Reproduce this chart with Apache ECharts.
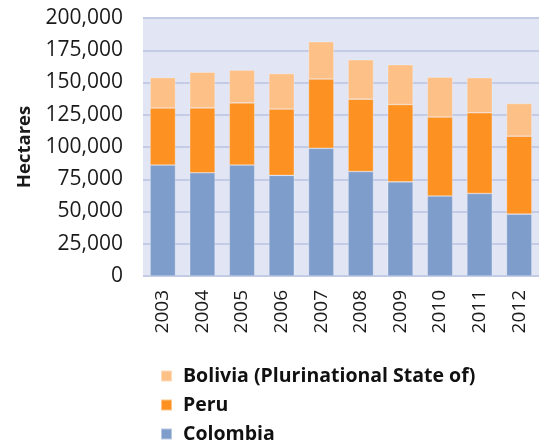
<!DOCTYPE html>
<html><head><meta charset="utf-8">
<script src="https://cdn.jsdelivr.net/npm/echarts@6/dist/echarts.min.js"></script>
<style>html,body{margin:0;padding:0;background:#fff}#c{width:540px;height:446px}</style>
</head><body><div id="c"></div>
<script>
const years = ['2003','2004','2005','2006','2007','2008','2009','2010','2011','2012'];
const colombia = [86000, 80000, 86000, 78000, 99000, 81000, 73000, 62000, 64000, 48000];
const peru = [44200, 50300, 48200, 51400, 53700, 56100, 59900, 61200, 62500, 60400];
const bolivia = [23600, 27700, 25400, 27500, 28900, 30500, 30900, 31000, 27200, 25300];
const yTicks = [0, 25000, 50000, 75000, 100000, 125000, 150000, 175000, 200000];

const chart = echarts.init(document.getElementById('c'), null, {renderer: 'canvas'});
const font = '"Open Sans", "Noto Sans", sans-serif';
const barStyle = c => ({color: c, borderColor: 'rgba(255,255,255,0.45)', borderWidth: 0.6});
chart.setOption({
  animation: false,
  textStyle: {fontFamily: font},
  grid: {left: 143, right: 1, top: 18, bottom: 170, show: true, backgroundColor: '#e1e5f4', borderWidth: 0},
  xAxis: {
    type: 'category', data: years,
    axisLine: {show: false}, axisTick: {show: false},
    axisLabel: {rotate: 90, fontSize: 19, color: '#1a1a1a', margin: 14, fontFamily: font}
  },
  yAxis: {
    type: 'value', min: yTicks[0], max: yTicks[yTicks.length - 1], interval: 25000,
    name: 'Hectares', nameLocation: 'middle', nameGap: 108, nameRotate: 90,
    nameTextStyle: {fontSize: 18.5, fontWeight: 'bold', color: '#1a1a1a', fontFamily: font},
    axisLine: {show: false}, axisTick: {show: false},
    axisLabel: {fontSize: 21, color: '#1a1a1a', margin: 20, fontFamily: font,
      formatter: v => v.toLocaleString('en-US')},
    splitLine: {lineStyle: {color: '#c3cce4', width: 2}}
  },
  legend: {
    orient: 'vertical', left: 155, top: 359, height: 90, width: 380,
    data: ['Bolivia (Plurinational State of)', 'Peru', 'Colombia'],
    icon: 'rect', itemWidth: 11, itemHeight: 11, itemGap: 5,
    textStyle: {fontSize: 19.5, fontWeight: 'bold', color: '#111', lineHeight: 24, padding: [0, 0, 0, 6], fontFamily: font}
  },
  series: [
    {name: 'Colombia', type: 'bar', stack: 't', data: colombia, barWidth: '64%', itemStyle: barStyle('#7f9dcb')},
    {name: 'Peru', type: 'bar', stack: 't', data: peru, itemStyle: barStyle('#fd9223')},
    {name: 'Bolivia (Plurinational State of)', type: 'bar', stack: 't', data: bolivia, itemStyle: barStyle('#fdc087')}
  ]
});
</script></body></html>
